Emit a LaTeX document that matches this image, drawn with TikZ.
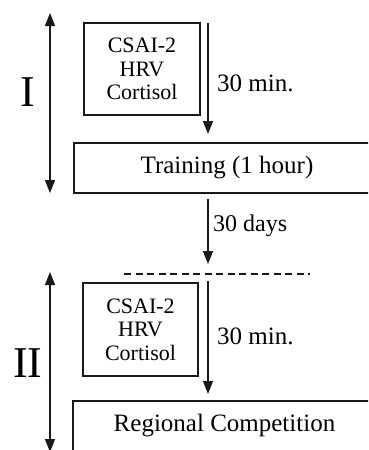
\documentclass[tikz,border=0pt]{standalone}
\usepackage{fontspec}
\setmainfont{Liberation Serif}
\usetikzlibrary{arrows.meta}
\begin{document}
\begin{tikzpicture}[x=1pt,y=-1pt,
  line/.style={line width=1.3pt,draw=black!90},
  arr/.style={line,-{Triangle[length=13pt,width=10pt]}},
  darr/.style={line,{Triangle[length=13pt,width=10pt]}-{Triangle[length=13pt,width=10pt]}},
  smallbox/.style={line,line width=1.1pt,rectangle,inner sep=0pt,align=center,font=\fontsize{22}{23.5}\selectfont},
  bigbox/.style={line,line width=1.1pt,rectangle,inner sep=0pt,font=\fontsize{25}{28}\selectfont},
  lbl/.style={anchor=west,inner sep=0pt,font=\fontsize{25}{28}\selectfont},
  roman/.style={inner sep=0pt,font=\fontsize{44}{48}\selectfont}]
\clip (0,0) rectangle (368,450);
\fill[white] (0,0) rectangle (368,450);
% phase I
\node[smallbox,minimum width=116pt,minimum height=92pt] (b1) at (142,69) {CSAI-2\\HRV\\Cortisol};
\node[bigbox,minimum width=306pt,minimum height=50pt] (train) at (227,168) {Training (1 hour)};
\coordinate (a1s) at (208,23);
\coordinate (a1e) at (208,134);
\draw[arr] (a1s) -- (a1e);
\node[lbl] (m1) at (217,83) {30 min.};
\coordinate (I1) at (50,13);
\coordinate (I2) at (50,193);
\draw[darr] (I1) -- (I2);
\node[roman] (r1) at (28,92) {I};
% 30 days
\coordinate (d1) at (208,199);
\coordinate (d2) at (208,264);
\draw[arr] (d1) -- (d2);
\node[lbl,font=\fontsize{24}{28}\selectfont] (days) at (213,226) {30 days};
\coordinate (dl1) at (124,274);
\coordinate (dl2) at (310,274);
\draw[line,line width=1.1pt,dash pattern=on 7pt off 4.5pt] (dl1) -- (dl2);
% phase II
\node[smallbox,minimum width=115pt,minimum height=93pt] (b2) at (140.5,329.5) {CSAI-2\\HRV\\Cortisol};
\node[bigbox,minimum width=303pt,minimum height=50pt] (comp) at (224.5,426) {Regional Competition};
\coordinate (a2s) at (208,281);
\coordinate (a2e) at (208,394);
\draw[arr] (a2s) -- (a2e);
\node[lbl] (m2) at (217,336) {30 min.};
\coordinate (II1) at (50,272);
\coordinate (II2) at (50,452);
\draw[darr] (II1) -- (II2);
\node[roman] (r2) at (28,363) {II};
\end{tikzpicture}
\end{document}
